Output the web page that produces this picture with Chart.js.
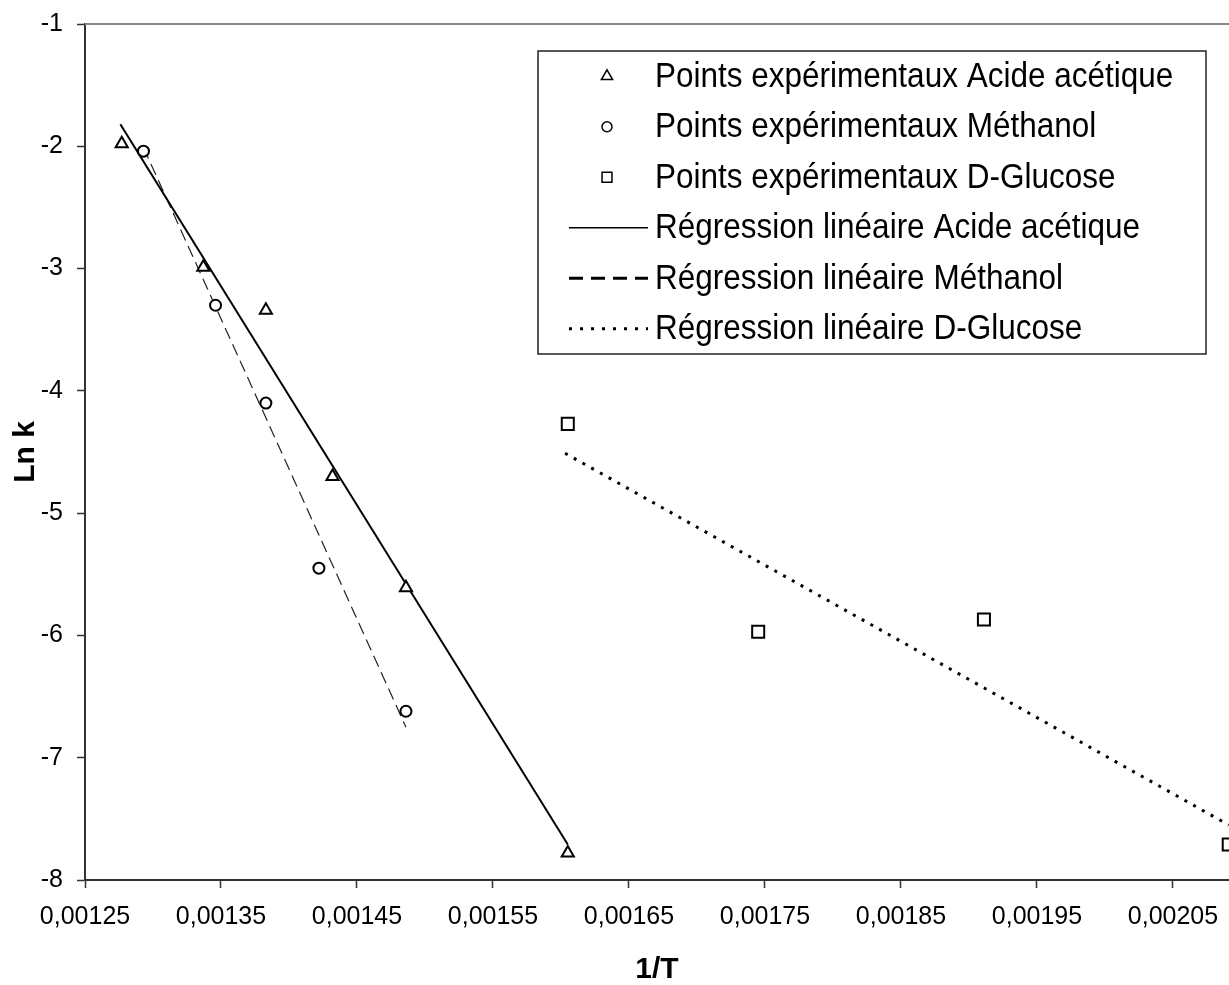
<!DOCTYPE html>
<html>
<head>
<meta charset="utf-8">
<title>Ln k = f(1/T)</title>
<script src="https://cdn.jsdelivr.net/npm/chart.js@4.4.1/dist/chart.umd.min.js"></script>
<style>
  html, body { margin: 0; padding: 0; background: #fff; }
</style>
</head>
<body>
<canvas id="arrhenius" width="1229" height="985"></canvas>
<script>
// Points expérimentaux (1/T en K-1, ln k)
const aceticX = [0.001277, 0.001337, 0.001383, 0.001432, 0.001486, 0.001605];
const aceticY = [-1.98, -2.99, -3.34, -4.70, -5.61, -7.78];
const methanolX = [0.001293, 0.001346, 0.001383, 0.001422, 0.001486];
const methanolY = [-2.04, -3.30, -4.10, -5.45, -6.62];
const glucoseX = [0.001605, 0.001745, 0.001911, 0.002091];
const glucoseY = [-4.27, -5.97, -5.87, -7.71];

// Droites de régression (extrémités)
const aceticFitX = [0.001276, 0.001605];
const aceticFitY = [-1.82, -7.71];
const methanolFitX = [0.001293, 0.001486];
const methanolFitY = [-2.01, -6.75];
const glucoseFitX = [0.001603, 0.002091];
const glucoseFitY = [-4.51, -7.55];

const seriesNames = [
  'Points expérimentaux Acide acétique',
  'Points expérimentaux Méthanol',
  'Points expérimentaux D-Glucose',
  'Régression linéaire Acide acétique',
  'Régression linéaire Méthanol',
  'Régression linéaire D-Glucose'
];

const xTicks = [0.00125, 0.00135, 0.00145, 0.00155, 0.00165, 0.00175, 0.00185, 0.00195, 0.00205];
const yTicks = [-8, -7, -6, -5, -4, -3, -2, -1];

const FONT = "'Liberation Sans', Arial, sans-serif";

function pts(xs, ys) {
  return xs.map((x, i) => ({ x: x, y: ys[i] }));
}

function markerSet(label, xs, ys, style, radius) {
  return {
    label: label,
    data: pts(xs, ys),
    showLine: false,
    pointStyle: style,
    pointRadius: radius,
    pointBorderWidth: 2,
    pointBorderColor: '#000',
    pointBackgroundColor: '#fff'
  };
}

function fitSet(label, xs, ys, width, dash, color) {
  return {
    label: label,
    data: pts(xs, ys),
    showLine: true,
    pointRadius: 0,
    borderColor: color,
    borderWidth: width,
    borderDash: dash,
    fill: false
  };
}

// legend drawn inside the plot, like the original
const legendBox = {
  id: 'legendBox',
  afterDraw(chart) {
    const ctx = chart.ctx;
    const left = 538, top = 51, w = 668, h = 303;
    const rowH = h / 6;
    ctx.save();
    ctx.fillStyle = '#fff';
    ctx.fillRect(left, top, w, h);
    ctx.strokeStyle = '#222';
    ctx.lineWidth = 1.5;
    ctx.strokeRect(left, top, w, h);

    const legendStyles = [
      { type: 'point', style: 'triangle', r: 6.5 },
      { type: 'point', style: 'circle', r: 5 },
      { type: 'point', style: 'rect', r: 7 },
      { type: 'line', dash: [], width: 1.5 },
      { type: 'line', dash: [14, 8], width: 3 },
      { type: 'line', dash: [3, 8], width: 3 }
    ];

    chart.data.datasets.forEach((ds, i) => {
      const cy = top + rowH * (i + 0.5);
      const st = legendStyles[i];
      if (st.type === 'point') {
        ctx.fillStyle = '#fff';
        ctx.strokeStyle = '#000';
        ctx.lineWidth = 1.5;
        ctx.setLineDash([]);
        Chart.helpers.drawPoint(ctx, { pointStyle: st.style, radius: st.r, borderWidth: 1.5, rotation: 0 }, 607, cy);
      } else {
        ctx.strokeStyle = '#000';
        ctx.lineWidth = st.width;
        ctx.setLineDash(st.dash);
        ctx.beginPath();
        ctx.moveTo(569, cy);
        ctx.lineTo(648, cy);
        ctx.stroke();
        ctx.setLineDash([]);
      }
      // text a bit taller than wide, as in the source
      ctx.save();
      ctx.translate(655, cy + 1);
      ctx.scale(1, 1.12);
      ctx.font = '31.5px ' + FONT;
      ctx.textBaseline = 'middle';
      ctx.textAlign = 'left';
      ctx.fillStyle = '#000';
      ctx.fillText(ds.label, 0, 0);
      ctx.restore();
    });
    ctx.restore();
  }
};

// grey frame line along the top of the plot area
const topBorder = {
  id: 'topBorder',
  beforeDatasetsDraw(chart) {
    const a = chart.chartArea;
    const ctx = chart.ctx;
    ctx.save();
    ctx.strokeStyle = '#888';
    ctx.lineWidth = 2;
    ctx.beginPath();
    ctx.moveTo(a.left, a.top);
    ctx.lineTo(chart.width, a.top);
    ctx.stroke();
    ctx.restore();
  }
};

const ctx = document.getElementById('arrhenius').getContext('2d');
new Chart(ctx, {
  type: 'scatter',
  data: {
    datasets: [
      markerSet(seriesNames[0], aceticX, aceticY, 'triangle', 7),
      markerSet(seriesNames[1], methanolX, methanolY, 'circle', 5.5),
      markerSet(seriesNames[2], glucoseX, glucoseY, 'rect', 8.5),
      fitSet(seriesNames[3], aceticFitX, aceticFitY, 2, [], '#000'),
      fitSet(seriesNames[4], methanolFitX, methanolFitY, 1.2, [12, 6], '#222'),
      fitSet(seriesNames[5], glucoseFitX, glucoseFitY, 3, [3, 7], '#000')
    ]
  },
  options: {
    responsive: false,
    animation: false,
    devicePixelRatio: 1,
    layout: { autoPadding: false, padding: { top: 24, right: 0, bottom: 0, left: 0 } },
    plugins: {
      legend: { display: false },
      tooltip: { enabled: false }
    },
    scales: {
      x: {
        type: 'linear',
        min: 0.00125,
        max: 0.0020912,
        afterBuildTicks: (scale) => { scale.ticks = xTicks.map(v => ({ value: v })); },
        afterFit: (scale) => {
          scale.height = 105;
          scale.paddingLeft = 0;
          scale.paddingRight = 0;
        },
        grid: { drawOnChartArea: false, drawTicks: true, tickLength: 8, tickColor: '#333', tickWidth: 1.5 },
        border: { display: true, color: '#333', width: 2 },
        ticks: {
          color: '#000',
          padding: 14,
          maxRotation: 0,
          font: { family: FONT, size: 25 },
          callback: (v) => v.toFixed(5).replace('.', ',')
        },
        title: {
          display: true,
          text: '1/T',
          color: '#000',
          padding: { top: 0, bottom: 0 },
          font: { family: FONT, size: 30, weight: 'bold', lineHeight: 1 }
        }
      },
      y: {
        type: 'linear',
        min: -8,
        max: -1,
        afterBuildTicks: (scale) => { scale.ticks = yTicks.map(v => ({ value: v })); },
        afterFit: (scale) => {
          scale.width = 85;
          scale.paddingTop = 0;
          scale.paddingBottom = 0;
        },
        grid: { drawOnChartArea: false, drawTicks: true, tickLength: 8, tickColor: '#333', tickWidth: 1.5 },
        border: { display: true, color: '#333', width: 2 },
        ticks: {
          color: '#000',
          padding: 14,
          font: { family: FONT, size: 25 },
          callback: (v) => String(v)
        },
        title: {
          display: true,
          text: 'Ln k',
          color: '#000',
          padding: { top: 11, bottom: 0 },
          font: { family: FONT, size: 30, weight: 'bold', lineHeight: 1 }
        }
      }
    }
  },
  plugins: [topBorder, legendBox]
});
</script>
</body>
</html>
